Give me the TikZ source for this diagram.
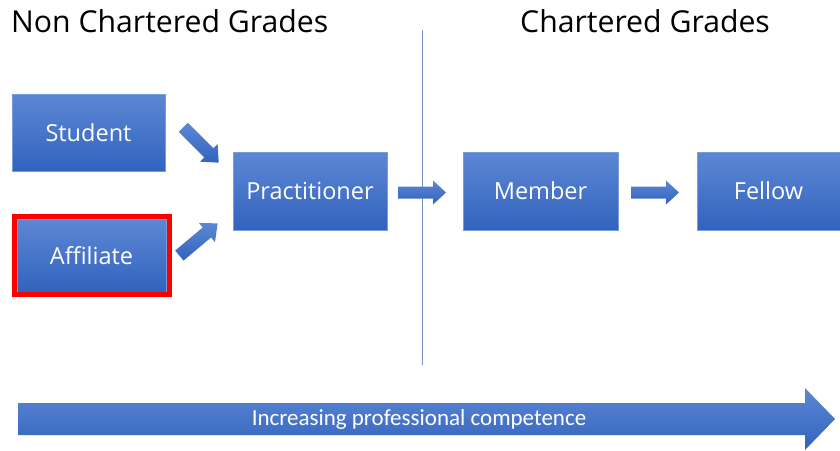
\documentclass[tikz,border=0pt]{standalone}
\usepackage{fontspec}
\setmainfont{Open Sans}
\newfontfamily\calib{Carlito}
\usetikzlibrary{calc}
\definecolor{btop}{RGB}{93,135,212}
\definecolor{bbot}{RGB}{49,99,190}
\definecolor{bedge}{RGB}{120,155,220}
\definecolor{vline}{RGB}{120,146,200}
\definecolor{redb}{RGB}{255,0,0}
\newcommand\blockarr[7]{%
  \begin{scope}[shift={(#1,#2)},rotate=#3]
    \shade[arrowshade] (-#4/2,-#5) -- (#4/2-#7,-#5) -- (#4/2-#7,-#6) -- (#4/2,0) -- (#4/2-#7,#6) -- (#4/2-#7,#5) -- (-#4/2,#5) -- cycle;
  \end{scope}}
\begin{document}
\begin{tikzpicture}[x=1pt,y=1pt,
  gbox/.style={rectangle, top color=btop, bottom color=bbot, draw=bedge, line width=0.6pt,
    text=white, font=\fontsize{23.5}{28}\selectfont, inner sep=0pt},
  arrowshade/.style={top color=btop, bottom color=bbot},
  title/.style={anchor=base west, inner sep=0pt, font=\fontsize{30.2}{36}\selectfont, text=black}]
\useasboundingbox (0,0) rectangle (840,-450);
\fill[white] (0,0) rectangle (840,-450);
% titles
\node[title] (t1) at (11,-32) {Non Chartered Grades};
\node[title] (t2) at (520,-32) {Chartered Grades};
% divider
\coordinate (vtop) at (422,-30);
\coordinate (vbot) at (422,-365);
\draw[vline, line width=0.8pt] (vtop) -- (vbot);
% boxes
\node[gbox, minimum width=153pt, minimum height=77pt] (student) at (88.5,-132.5) {Student};
\node[gbox, minimum width=149pt, minimum height=73pt] (affil) at (91.5,-255.5) {Affiliate};
\draw[redb, line width=5pt] (14.5,-216.5) rectangle (169.5,-294.5);
\node[gbox, minimum width=154pt, minimum height=78pt] (prac) at (310,-191) {Practitioner};
\node[gbox, minimum width=155pt, minimum height=78pt] (member) at (540.5,-191) {Member};
\node[gbox, minimum width=143pt, minimum height=78pt] (fellow) at (768.5,-191) {Fellow};
% block arrows
\blockarr{201}{-145}{-45}{50}{6.5}{12.5}{14}
\blockarr{198.5}{-239.5}{40}{50}{6.5}{12.5}{14}
\blockarr{422}{-192.5}{0}{48}{6}{12}{13}
\blockarr{655}{-192.5}{0}{48}{6}{12}{13}
\blockarr{426.5}{-419}{0}{817}{16}{31}{30}
\node[text=white, font=\calib\fontsize{23}{26}\selectfont, inner sep=0pt] (comp) at (419,-419) {Increasing professional competence};
\end{tikzpicture}
\end{document}
